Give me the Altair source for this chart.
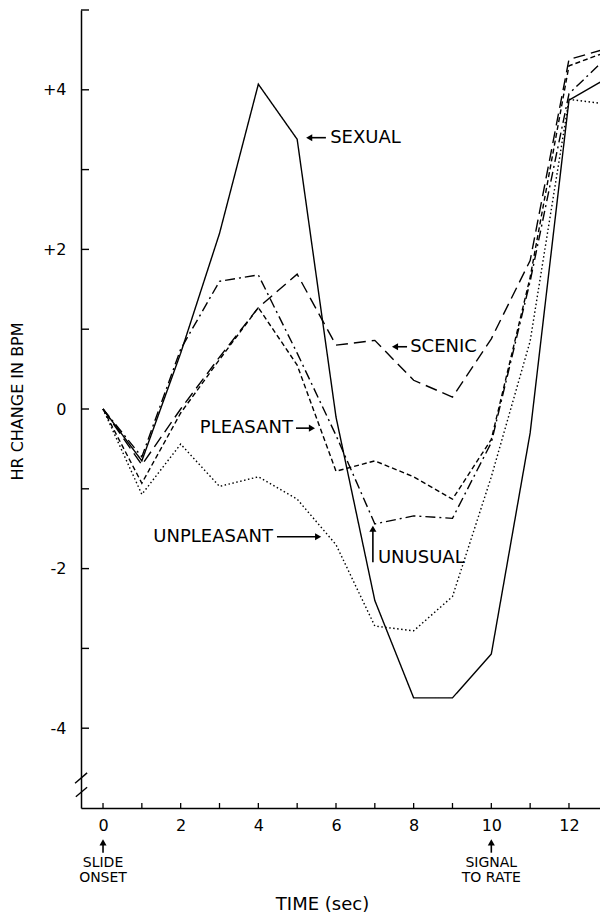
import altair as alt
import pandas as pd

# ---- data ----
time_s = list(range(14))
sexual     = [0, -0.65, 0.70, 2.20, 4.07, 3.38, -0.10, -2.40, -3.62, -3.62, -3.07, -0.30, 3.87, 4.15]
scenic     = [0, -0.70, 0.00, 0.65, 1.27, 1.69, 0.80, 0.86, 0.36, 0.15, 0.88, 1.86, 4.38, 4.52]
unusual    = [0, -0.60, 0.75, 1.60, 1.68, 0.70, -0.33, -1.44, -1.34, -1.37, -0.42, 1.60, 3.95, 4.42]
pleasant   = [0, -0.93, -0.05, 0.62, 1.27, 0.55, -0.78, -0.65, -0.85, -1.13, -0.38, 1.65, 4.30, 4.48]
unpleasant = [0, -1.07, -0.44, -0.97, -0.85, -1.13, -1.70, -2.72, -2.78, -2.35, -0.85, 0.85, 3.88, 3.82]

series_names = ["SEXUAL", "SCENIC", "UNUSUAL", "PLEASANT", "UNPLEASANT"]
dash_styles = [[1, 0], [12, 6], [10, 4, 2, 4], [5, 3], [1.5, 2.5]]

x_label_values = [0, 2, 4, 6, 8, 10, 12]
x_tick_values = list(range(13))
y_label_values = [-4, -2, 0, 2, 4]
y_tick_values = [-4, -3, -2, -1, 0, 1, 2, 3, 4, 5]

# annotation labels (position in data units)
ann_left_text = ["SEXUAL", "SCENIC", "UNUSUAL"]
ann_left_t = [5.85, 7.91, 7.08]
ann_left_v = [3.40, 0.78, -1.87]
ann_right_text = ["PLEASANT", "UNPLEASANT"]
ann_right_t = [4.89, 4.38]
ann_right_v = [-0.24, -1.60]

# arrows: shaft from (t, v) to (t2, v2); head at (t2, v2)
arr_t = [5.74, 7.83, 4.97, 4.48, 6.95, 0.0, 10.0]
arr_v = [3.40, 0.78, -0.24, -1.60, -1.92, -5.56, -5.56]
arr_t2 = [5.31, 7.52, 5.38, 5.54, 6.95, 0.0, 10.0]
arr_v2 = [3.40, 0.78, -0.24, -1.60, -1.50, -5.43, -5.43]
arr_shape = ["triangle-left", "triangle-left", "triangle-right", "triangle-right",
             "triangle-up", "triangle-up", "triangle-up"]

bottom_text = ["SLIDE", "ONSET", "SIGNAL", "TO RATE"]
bottom_t = [0, 0, 10, 10]
bottom_v = [-5.69, -5.88, -5.69, -5.88]

# axis break marks
brk_t = [-0.72, -0.70]
brk_v = [-4.69, -4.86]
brk_t2 = [-0.41, -0.41]
brk_v2 = [-4.56, -4.74]

FONT = "DejaVu Sans"

rows = []
for name, vals in zip(series_names, [sexual, scenic, unusual, pleasant, unpleasant]):
    for t, v in zip(time_s, vals):
        rows.append({"series": name, "t": t, "v": v})
df = pd.DataFrame(rows)

X = alt.Scale(domain=[-0.567, 12.799], nice=False, zero=False)
Y = alt.Scale(domain=[-5, 5], nice=False, zero=False)

x_axis = alt.Axis(
    values=x_label_values, tickSize=0, labelPadding=9, labelBaseline="top",
    labelFont=FONT, labelFontSize=16, labelColor="black", labelFlush=False,
    labelOverlap=False, grid=False, domainColor="black", domainWidth=1.5,
    title="TIME (sec)", titleFont=FONT, titleFontSize=18, titleFontWeight="normal",
    titleColor="black", titleX=241, titleY=96, titleBaseline="middle", titleAlign="center",
)
y_axis = alt.Axis(
    values=y_label_values, tickSize=0, labelPadding=15,
    labelExpr="datum.value > 0 ? '+' + datum.value : (datum.value < 0 ? '-' + abs(datum.value) : '0')",
    labelFont=FONT, labelFontSize=16, labelColor="black", labelFlush=False,
    labelOverlap=False, grid=False, domainColor="black", domainWidth=1.5,
    title="HR CHANGE IN BPM", titleFont=FONT, titleFontSize=16, titleFontWeight="normal",
    titleColor="black", titleX=-64, titleY=391, titleAngle=270,
    titleBaseline="middle", titleAlign="center",
)


def xe(field="t"):
    return alt.X(f"{field}:Q", scale=X, axis=x_axis)


def ye(field="v"):
    return alt.Y(f"{field}:Q", scale=Y, axis=y_axis)


lines = alt.Chart(df).mark_line(color="black", strokeWidth=1.4, clip=True).encode(
    x=xe(), y=ye(),
    strokeDash=alt.StrokeDash("series:N", scale=alt.Scale(domain=series_names, range=dash_styles), legend=None),
    detail="series:N",
)

yticks = alt.Chart(pd.DataFrame({"v": y_tick_values})).mark_rule(color="black", strokeWidth=1.4).encode(
    y=ye(), x=alt.value(0), x2=alt.value(8)
)
xticks = alt.Chart(pd.DataFrame({"t": x_tick_values})).mark_rule(color="black", strokeWidth=1.3).encode(
    x=xe(), y=alt.value(798), y2=alt.value(793)
)
breaks = alt.Chart(pd.DataFrame({"t": brk_t, "v": brk_v, "t2": brk_t2, "v2": brk_v2})).mark_rule(
    color="black", strokeWidth=1.4
).encode(x=xe(), y=ye(), x2=alt.X2("t2:Q"), y2=alt.Y2("v2:Q"))

txt_left = alt.Chart(pd.DataFrame({"label": ann_left_text, "t": ann_left_t, "v": ann_left_v})).mark_text(
    align="left", baseline="middle", font=FONT, fontSize=18, color="black"
).encode(x=xe(), y=ye(), text="label:N")

txt_right = alt.Chart(pd.DataFrame({"label": ann_right_text, "t": ann_right_t, "v": ann_right_v})).mark_text(
    align="right", baseline="middle", font=FONT, fontSize=18, color="black"
).encode(x=xe(), y=ye(), text="label:N")

arr_df = pd.DataFrame({"t": arr_t, "v": arr_v, "t2": arr_t2, "v2": arr_v2, "shape": arr_shape})
shafts = alt.Chart(arr_df).mark_rule(color="black", strokeWidth=1.6).encode(
    x=xe(), y=ye(), x2=alt.X2("t2:Q"), y2=alt.Y2("v2:Q")
)
heads = alt.Chart(arr_df).transform_calculate(t="datum.t2", v="datum.v2").mark_point(
    filled=True, color="black", opacity=1, size=50
).encode(x=xe(), y=ye(), shape=alt.Shape("shape:N", scale=None))

bottom = alt.Chart(pd.DataFrame({"label": bottom_text, "t": bottom_t, "v": bottom_v})).mark_text(
    align="center", baseline="middle", font=FONT, fontSize=14, color="black"
).encode(x=xe(), y=ye(), text="label:N")

chart = alt.layer(lines, yticks, xticks, breaks, shafts, heads, txt_left, txt_right, bottom).properties(
    width=519, height=798,
    autosize=alt.AutoSizeParams(type="none"),
    padding={"left": 73, "top": 2, "right": 0, "bottom": 104},
    background="white",
).configure_view(stroke=None)

chart.save("out.html", embed_options={"renderer": "svg", "actions": False})
